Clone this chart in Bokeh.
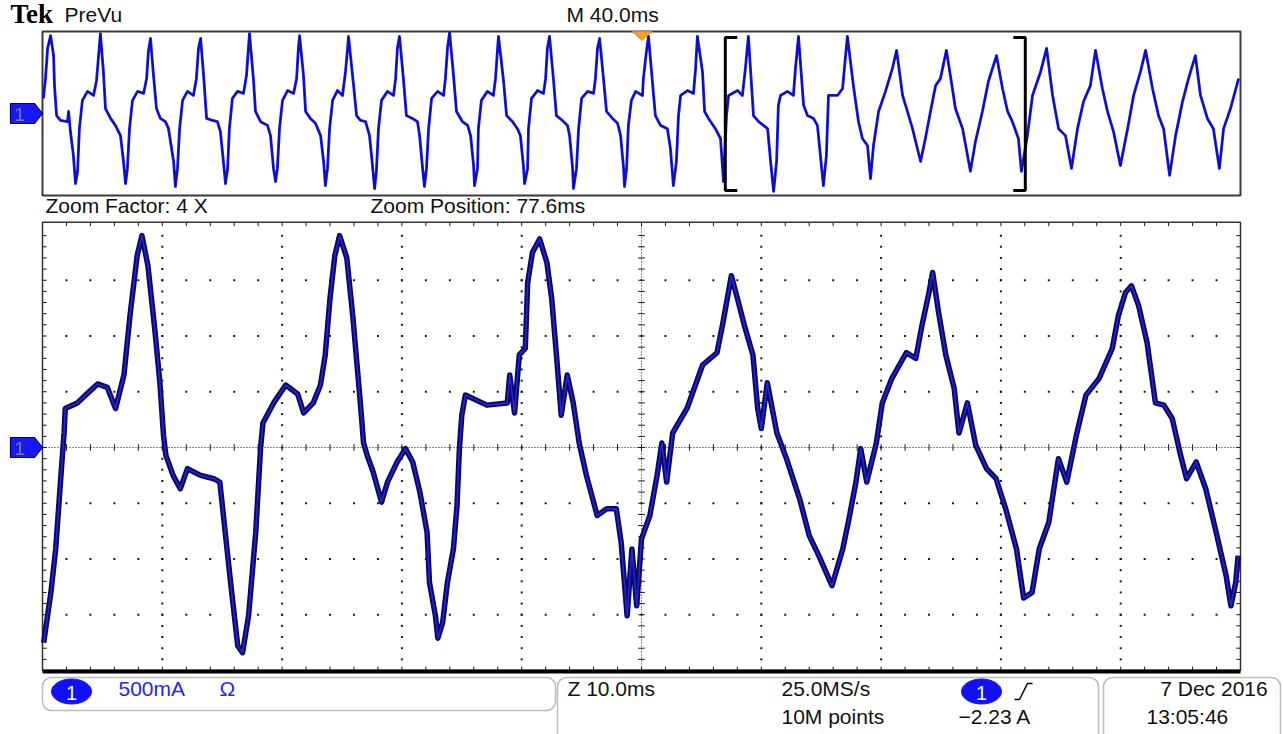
from bokeh.plotting import figure
from bokeh.models import Range1d, BoxAnnotation
from bokeh.embed import file_html
from bokeh.resources import INLINE
from bokeh.core.properties import value
import numpy as np

# ---------------- data ----------------
# Zoomed window: time in ms (zoom position 77.6 ms, 10.0 ms/div), current in A (500 mA/div)
main_t_ms = [27.7, 28.3, 28.7, 29.1, 29.4, 29.5, 30.5, 31.4, 32.2, 33.0,
             33.7, 34.4, 34.9, 35.5, 35.9, 36.4, 37.0, 37.4, 37.7, 37.9,
             38.5, 39.1, 39.7, 40.8, 41.9, 42.4, 42.7, 43.3, 43.9, 44.3,
             44.8, 45.4, 45.8, 46.0, 46.9, 47.9, 48.9, 49.4, 50.2, 50.8,
             51.2, 51.6, 52.0, 52.4, 53.0, 53.5, 54.1, 54.4, 54.7, 55.2,
             55.9, 56.4, 57.2, 57.9, 58.5, 59.1, 59.7, 59.9, 60.4, 60.6,
             61.0, 61.4, 61.9, 62.2, 62.4, 62.6, 62.9, 64.7, 66.4, 66.6,
             67.0, 67.4, 67.9, 68.1, 68.5, 69.1, 69.7, 70.1, 70.5, 70.9,
             71.4, 71.9, 72.4, 73.0, 73.9, 74.7, 75.5, 75.9, 76.4, 76.8,
             77.2, 77.6, 78.3, 78.9, 79.3, 79.7, 80.2, 81.4, 82.7, 83.9,
             84.4, 85.1, 85.6, 86.2, 86.9, 87.3, 87.6, 88.1, 88.9, 89.7,
             90.8, 91.6, 92.4, 93.5, 94.4, 94.9, 95.5, 95.9, 96.4, 97.2,
             97.7, 98.5, 99.7, 100.5, 101.0, 101.6, 101.9, 102.4, 103.0, 103.7,
             104.1, 104.8, 105.5, 106.4, 107.2, 108.0, 108.9, 109.5, 110.2, 110.8,
             111.6, 112.4, 113.1, 113.9, 114.7, 115.8, 116.9, 117.4, 118.0, 118.5,
             119.1, 119.8, 120.5, 121.2, 121.9, 122.6, 123.1, 123.9, 124.7, 125.5,
             126.4, 126.8, 127.2, 127.4]
main_i_A = [-1.75, -1.30, -0.91, -0.31, 0.13, 0.35, 0.40, 0.49, 0.57, 0.54,
            0.35, 0.65, 1.18, 1.72, 1.90, 1.63, 1.03, 0.58, 0.11, -0.07,
            -0.25, -0.37, -0.19, -0.25, -0.28, -0.31, -0.61, -1.21, -1.78, -1.84,
            -1.51, -0.76, -0.01, 0.22, 0.40, 0.56, 0.48, 0.31, 0.40, 0.56,
            0.83, 1.34, 1.72, 1.90, 1.70, 1.18, 0.44, 0.04, -0.07, -0.22,
            -0.49, -0.31, -0.13, -0.01, -0.13, -0.40, -0.76, -1.21, -1.51, -1.71,
            -1.57, -1.21, -0.91, -0.52, -0.01, 0.29, 0.47, 0.38, 0.40, 0.65,
            0.31, 0.83, 0.89, 1.48, 1.75, 1.87, 1.66, 1.34, 0.83, 0.29,
            0.65, 0.40, 0.04, -0.25, -0.61, -0.55, -0.55, -0.85, -1.51, -0.91,
            -1.42, -0.82, -0.61, -0.25, 0.04, -0.31, 0.13, 0.35, 0.74, 0.85,
            1.12, 1.54, 1.34, 1.09, 0.83, 0.35, 0.17, 0.58, 0.13, -0.10,
            -0.46, -0.79, -0.97, -1.24, -0.91, -0.65, -0.31, -0.01, -0.31, 0.04,
            0.40, 0.62, 0.85, 0.80, 1.09, 1.39, 1.57, 1.21, 0.83, 0.53,
            0.13, 0.40, 0.02, -0.19, -0.28, -0.55, -0.91, -1.35, -1.30, -0.91,
            -0.67, -0.10, -0.31, 0.11, 0.47, 0.62, 0.89, 1.18, 1.39, 1.45,
            1.27, 0.94, 0.40, 0.38, 0.26, -0.07, -0.28, -0.13, -0.37, -0.73,
            -1.15, -1.42, -1.21, -0.97]

# PreVu record: time in ms relative to trigger (40.0 ms/div), current in A
prev_t_ms = [-199.7, -199.0, -198.3, -197.3, -196.3, -196.0, -195.3, -194.0, -191.7, -191.3, -190.7,
             -189.7, -189.0, -188.3, -187.7, -186.7, -185.0, -183.0, -182.0, -181.3, -180.7,
             -179.7, -179.0, -177.3, -175.7, -174.0, -173.0, -172.3, -171.7, -171.0, -170.0, -168.3, -166.3, -165.3, -164.7, -164.0,
             -163.0, -162.0, -160.7, -159.0, -158.0, -156.3, -155.7, -155.0, -154.3, -153.3, -151.7, -149.7, -148.7, -148.0, -147.3,
             -146.3, -145.3, -143.3, -141.7, -140.7, -139.7, -139.0, -138.3, -137.7, -136.7, -135.0, -133.0, -132.0, -131.3, -131.0,
             -129.7, -129.0, -127.3, -125.0, -124.0, -123.0, -122.3, -121.7, -121.0, -120.0, -118.3, -116.3, -115.3, -114.7, -114.3,
             -113.0, -112.3, -110.7, -109.0, -107.3, -106.3, -105.7, -105.0, -104.3, -103.3, -101.7, -100.0, -99.0, -98.3, -98.0,
             -96.3, -95.3, -94.0, -92.3, -91.0, -90.0, -89.3, -88.7, -88.0, -87.0, -85.0, -83.0, -82.3, -81.7, -81.0,
             -79.7, -78.7, -76.7, -75.0, -74.3, -73.3, -72.7, -72.0, -71.3, -70.3, -68.3, -66.3, -65.7, -65.0, -64.3,
             -63.0, -62.0, -60.0, -58.3, -57.3, -56.3, -56.0, -55.0, -54.7, -53.7, -51.7, -49.7, -49.0, -48.3, -48.0,
             -46.3, -45.3, -43.3, -41.7, -40.7, -39.7, -39.3, -38.3, -38.0, -37.0, -35.0, -33.0, -32.3, -31.7, -31.0,
             -29.7, -28.7, -26.7, -25.0, -24.3, -23.3, -23.0, -22.0, -21.3, -20.3, -18.3, -16.3, -15.7, -15.0, -14.3,
             -13.0, -12.0, -10.0, -8.3, -7.3, -6.3, -6.0, -5.3, -4.7, -3.7, -2.3, 0.0, 0.3, 1.3, 2.0,
             3.7, 4.3, 6.0, 8.3, 9.3, 10.3, 11.3, 12.0, 12.7, 15.0, 17.0, 17.7, 18.3,
             20.0, 20.7, 22.0, 24.3, 26.0, 26.7, 27.0, 28.0, 28.7, 31.7, 33.3, 34.3, 35.3,
             37.0, 38.7, 40.3, 41.7, 42.7, 43.7, 44.7, 45.3, 46.0, 48.3, 50.3, 51.0, 52.0,
             53.7, 55.0, 57.0, 58.3, 59.3, 60.3, 61.3, 62.0, 65.0, 66.7, 67.3, 68.3,
             70.3, 72.0, 73.3, 75.0, 76.0, 77.0, 78.7, 81.0, 83.3, 84.7,
             86.7, 88.3, 90.0, 92.7, 94.3, 96.0, 97.7, 99.3, 101.3,
             103.3, 104.3, 106.7, 109.3, 111.0, 113.3, 115.3, 118.0,
             120.0, 121.7, 123.3, 125.3, 126.3, 128.3, 130.0, 132.7, 134.7,
             136.7, 138.7, 141.0, 143.0, 145.0, 147.0, 149.3, 151.0,
             153.3, 155.0, 157.0, 159.3, 161.7, 163.7, 166.0, 167.7,
             170.0, 172.0, 173.7, 175.7, 177.7, 180.0, 182.0, 184.3,
             186.0, 188.3, 190.3, 192.3, 193.7, 196.0, 198.7]
prev_i_A = [0.37, 0.85, 1.59, 1.90, 1.41, 0.68, -0.05, -0.17, -0.20, 0.05, -0.44,
            -1.02, -1.71, -1.41, -0.37, 0.32, 0.54, 0.44, 0.80, 1.41, 1.95,
            1.02, 0.12, -0.12, -0.29, -0.54, -1.17, -1.71, -1.34, -0.37, 0.32, 0.54, 0.49, 0.85, 1.51, 1.83,
            0.93, 0.12, -0.12, -0.20, -0.37, -1.17, -1.78, -1.34, -0.37, 0.32, 0.54, 0.44, 0.85, 1.59, 1.83,
            0.93, -0.12, -0.17, -0.20, -0.44, -1.17, -1.71, -1.34, -0.37, 0.37, 0.54, 0.49, 0.93, 1.66, 1.95,
            0.85, 0.05, -0.20, -0.29, -0.54, -1.34, -1.66, -1.34, -0.37, 0.32, 0.56, 0.49, 0.85, 1.59, 1.90,
            0.93, 0.05, -0.12, -0.24, -0.54, -1.17, -1.76, -1.34, -0.37, 0.32, 0.56, 0.44, 1.02, 1.59, 1.88,
            0.68, -0.05, -0.17, -0.20, -0.54, -1.27, -1.83, -1.41, -0.37, 0.32, 0.54, 0.44, 0.85, 1.59, 1.88,
            0.85, -0.05, -0.12, -0.20, -0.54, -1.34, -1.78, -1.34, -0.37, 0.37, 0.54, 0.44, 0.85, 1.59, 1.98,
            0.93, 0.05, -0.20, -0.29, -0.54, -1.27, -1.76, -1.34, -0.37, 0.32, 0.54, 0.44, 0.85, 1.59, 1.88,
            0.78, -0.05, -0.20, -0.37, -0.54, -1.27, -1.71, -1.34, -0.37, 0.37, 0.56, 0.49, 0.85, 1.59, 1.88,
            0.85, -0.05, -0.17, -0.29, -0.54, -1.34, -1.83, -1.34, -0.37, 0.37, 0.54, 0.49, 0.85, 1.59, 1.83,
            0.85, 0.05, -0.12, -0.24, -0.54, -1.34, -1.78, -1.34, -0.29, 0.32, 0.54, 0.44, 0.85, 1.51, 1.88,
            0.44, -0.05, -0.29, -0.37, -0.85, -1.76, -1.17, -0.05, 0.44, 0.56, 0.49, 1.10, 1.88,
            1.02, 0.05, -0.12, -0.37, -0.61, -1.34, -1.66, -0.05, 0.44, 0.56, 0.44, 1.10, 1.88,
            -0.05, -0.20, -0.29, -0.37, -1.17, -1.90, -1.17, 0.20, 0.44, 0.54, 0.44, 1.10, 1.88,
            0.20, -0.05, -0.12, -0.29, -1.02, -1.76, -1.02, 0.44, 0.44, 0.61, 1.10, 1.88,
            0.68, -0.20, -0.61, -0.78, -1.59, -0.78, 0.05, 0.54, 1.10, 1.54,
            0.44, 0.05, -0.37, -1.17, -0.61, 0.05, 0.68, 0.85, 1.54,
            0.61, 0.12, -0.37, -1.41, -0.68, 0.05, 0.78, 1.41,
            0.61, 0.05, -0.20, -0.61, -1.41, -0.54, 0.44, 1.02, 1.59,
            0.44, -0.37, -0.54, -1.34, -0.37, 0.29, 0.68, 1.54,
            0.61, 0.05, -0.44, -1.27, -0.37, 0.44, 1.02, 1.54,
            0.61, -0.05, -0.37, -1.51, -0.54, 0.29, 0.85, 1.41,
            0.44, -0.12, -0.37, -1.34, -0.37, 0.12, 0.85]

assert len(main_t_ms) == len(main_i_A), (len(main_t_ms), len(main_i_A))
assert len(prev_t_ms) == len(prev_i_A), (len(prev_t_ms), len(prev_i_A))

zoom_start_ms, zoom_end_ms = 27.6, 127.6      # zoom window (77.6 ms +/- 5 div)
ms_per_div, amps_per_div = 10.0, 0.5

header_texts = ["PreVu", "M 40.0ms", "Zoom Factor: 4 X", "Zoom Position: 77.6ms"]
status_texts = ["500mA", "Ω", "Z 10.0ms", "25.0MS/s", "10M points", "\u22122.23 A", "13:05:46"]
date_text = "7 Dec  2016"

# ---------------- figure ----------------
W, H = 1283, 734
FONT = value("Liberation Sans")

p = figure(width=W, height=H, x_range=Range1d(24.094, 131.189), y_range=Range1d(-2.574, 4.009),
           output_backend="svg", toolbar_location=None, min_border=0,
           x_axis_location=None, y_axis_location=None)
p.xgrid.visible = False
p.ygrid.visible = False
p.outline_line_color = None
p.background_fill_color = "white"
p.border_fill_color = "white"
p.extra_x_ranges = {"px": Range1d(0, W), "pt": Range1d(-214.0, 213.667)}
p.extra_y_ranges = {"px": Range1d(H, 0), "pi": Range1d(-15.146, 2.756)}
PX = dict(x_range_name="px", y_range_name="px")

# ---------- main graticule ----------
t_minor = zoom_start_ms + (ms_per_div / 5) * np.arange(1, 50)
i_minor = -4 * amps_per_div + (amps_per_div / 5) * np.arange(1, 40)
t_major = [zoom_start_ms + ms_per_div * k for k in (1, 2, 3, 4, 6, 7, 8, 9)]
i_major = [amps_per_div * k for k in (-3, -2, -1, 1, 2, 3)]
gx = [t for t in t_major for _ in i_minor] + [t for _ in i_major for t in t_minor]
gy = [i for _ in t_major for i in i_minor] + [i for i in i_major for _ in t_minor]
p.scatter(gx, gy, marker="square", size=2, color="#1a1a1a", line_width=0)

t_mid = (zoom_start_ms + zoom_end_ms) / 2
p.segment(x0=[zoom_start_ms, t_mid], y0=[0, -2.0], x1=[zoom_end_ms, t_mid], y1=[0, 2.0],
          line_color="#1a1a1a", line_width=1, line_dash="1 2")
# ticks on center lines and on the edges
p.segment(x0=list(t_minor), y0=[-0.03] * len(t_minor), x1=list(t_minor), y1=[0.03] * len(t_minor),
          line_color="#1a1a1a", line_width=1)
p.segment(x0=[t_mid - 0.28] * len(i_minor), y0=list(i_minor), x1=[t_mid + 0.28] * len(i_minor),
          y1=list(i_minor), line_color="#1a1a1a", line_width=1)
p.segment(x0=list(t_minor), y0=[2.02] * len(t_minor), x1=list(t_minor), y1=[1.985] * len(t_minor),
          line_color="#1a1a1a", line_width=1)
p.segment(x0=list(t_minor), y0=[-2.0] * len(t_minor), x1=list(t_minor), y1=[-1.965] * len(t_minor),
          line_color="#1a1a1a", line_width=1)
p.segment(x0=[zoom_start_ms] * len(i_minor), y0=list(i_minor), x1=[zoom_start_ms + 0.35] * len(i_minor),
          y1=list(i_minor), line_color="#1a1a1a", line_width=1)
p.segment(x0=[zoom_end_ms] * len(i_minor), y0=list(i_minor), x1=[zoom_end_ms - 0.35] * len(i_minor),
          y1=list(i_minor), line_color="#1a1a1a", line_width=1)
p.quad(left=zoom_start_ms, right=zoom_end_ms, top=2.02, bottom=-2.0, fill_alpha=0,
       line_color="#333333", line_width=1.5)

# ---------- main trace ----------
p.line(main_t_ms, main_i_A, line_color="#08086a", line_width=5.5, line_join="round")
p.line(main_t_ms, main_i_A, line_color="#2525cc", line_width=1.6, line_join="round")

# ---------- preview panel ----------
p.quad(left=42, right=1240, top=31, bottom=195, fill_alpha=0, line_color="#3a3a3a",
       line_width=2, **PX)
p.line(prev_t_ms, prev_i_A, line_color="#1616ee", line_width=2.8, line_join="round",
       x_range_name="pt", y_range_name="pi")
p.line(prev_t_ms, prev_i_A, line_color="#0a0a90", line_width=0.8, line_join="round",
       x_range_name="pt", y_range_name="pi")
# zoom bracket
p.multi_line(xs=[[zoom_start_ms + 4, zoom_start_ms, zoom_start_ms, zoom_start_ms + 4],
                 [zoom_end_ms - 4, zoom_end_ms, zoom_end_ms, zoom_end_ms - 4]],
             ys=[[37, 37, 190, 190], [37, 37, 190, 190]],
             line_color="black", line_width=3, x_range_name="pt", y_range_name="px")
# trigger marker
p.patch([632, 651, 641.5], [31, 31, 40], fill_color="#f5a020", line_color="#e08a10", **PX)

# channel markers
for cy in (113, 447):
    p.patch([10, 34, 42, 34, 10], [cy - 10, cy - 10, cy, cy + 10, cy + 10],
            fill_color="#1818f8", line_color="#000070", line_width=1.2, **PX)
    p.text([19], [cy + 1], text=["1"], text_font=FONT, text_font_size="19px",
           text_color="#7a7a7a", text_align="center", text_baseline="middle", **PX)

# ---------- header texts ----------
p.text([10], [28], text=["Tek"], text_font=value("Liberation Serif"), text_font_style="bold",
       text_font_size="27px", text_color="black", **PX)
p.text([64, 566, 45, 370], [25, 25, 216, 216], text=header_texts, text_font=FONT,
       text_font_size="21px", text_color="#111111", **PX)

# ---------- status bar ----------
p.segment(x0=42, y0=671, x1=1240, y1=671, line_color="black", line_width=4, **PX)
for (l, r, t, b) in [(42, 555, 677, 710), (557, 1098, 677, 745), (1103, 1280, 677, 745)]:
    p.add_layout(BoxAnnotation(left=l, right=r, top=t, bottom=b, fill_alpha=0,
                               line_color="#222222", line_width=1.5, border_radius=9, **PX))
p.ellipse([71, 981], [691, 691], width=40, height=25, fill_color="#1010ff", line_color="#1010ff", **PX)
p.text([71, 981], [692, 692], text=["1", "1"], text_font=FONT, text_font_size="20px",
       text_color="white", text_align="center", text_baseline="middle", **PX)
p.line([1014, 1019, 1027, 1032], [699, 699, 683, 683], line_color="black", line_width=1.5, **PX)
p.text([118, 219], [699, 699], text=status_texts[:2], text_font=FONT, text_font_size="21px",
       text_color="#2424ff", **PX)
p.text([567, 781, 781, 958, 1146], [699, 699, 727, 727, 727], text=status_texts[2:],
       text_font=FONT, text_font_size="21px", text_color="#111111", **PX)
p.text([1273], [699], text=[date_text], text_font=FONT, text_font_size="21px",
       text_color="#111111", text_align="right", **PX)

open("out.html", "w").write(file_html(p, INLINE))
